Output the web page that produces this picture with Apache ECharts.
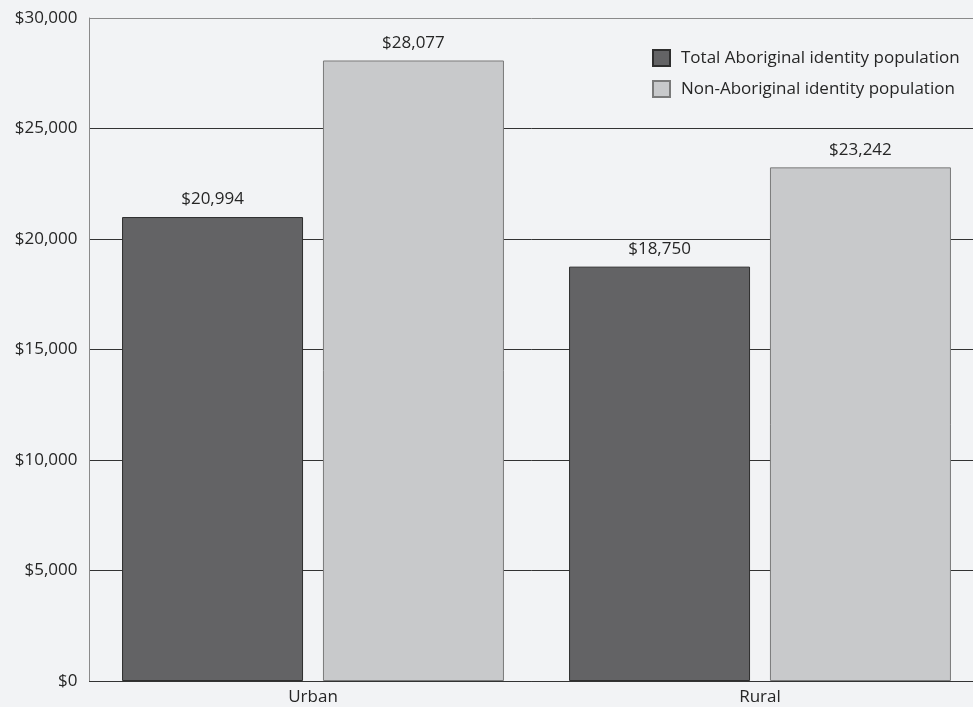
<!DOCTYPE html>
<html>
<head>
<meta charset="utf-8">
<script src="https://cdn.jsdelivr.net/npm/echarts@6/dist/echarts.min.js"></script>
<style>
  html, body { margin: 0; padding: 0; background: #f2f3f5; }
  #chart { width: 973px; height: 707px; }
</style>
</head>
<body>
<div id="chart"></div>
<script>
// Median income by area of residence
const categories = ['Urban', 'Rural'];
const aboriginal = [20994, 18750];
const nonAboriginal = [28077, 23242];
const seriesNames = ['Total Aboriginal identity population', 'Non-Aboriginal identity population'];

const FONT = 'Open Sans';
const TEXT = '#262626';
const money = v => '$' + Number(v).toLocaleString('en-US');

const chart = echarts.init(document.getElementById('chart'), null, { renderer: 'canvas' });
chart.setOption({
  backgroundColor: '#f2f3f5',
  animation: false,
  textStyle: { fontFamily: FONT },
  legend: {
    orient: 'vertical',
    left: 652,
    top: 49,
    padding: 0,
    itemWidth: 17,
    itemHeight: 16,
    itemGap: 13,
    icon: 'rect',
    textStyle: { fontFamily: FONT, fontSize: 17, lineHeight: 18, color: TEXT, padding: [0, 0, 0, 6] },
    data: seriesNames
  },
  // plot band runs a little past the right edge of the canvas
  grid: { left: 89.5, width: 894, top: 18, bottom: 26, containLabel: false, outerBoundsMode: 'none' },
  xAxis: {
    type: 'category',
    data: categories,
    axisLine: { show: true, lineStyle: { color: '#333', width: 1 } },
    axisTick: { show: false },
    axisLabel: { fontFamily: FONT, fontSize: 17, color: TEXT, margin: 8 },
    splitLine: { show: false }
  },
  yAxis: {
    type: 'value',
    min: 0,
    max: 30000,
    interval: 5000,
    axisLine: { show: true, lineStyle: { color: '#8a8a8a', width: 1 } },
    axisTick: { show: false },
    axisLabel: { fontFamily: FONT, fontSize: 17, color: TEXT, margin: 12, formatter: money },
    splitLine: { show: true, lineStyle: { color: ['#333', '#333', '#333', '#333', '#333', '#333', '#8a8a8a'], width: 1 } }
  },
  series: [
    {
      name: seriesNames[0],
      type: 'bar',
      data: aboriginal,
      barWidth: 181,
      barGap: '11%',
      itemStyle: { color: '#636365', borderColor: '#2e2e2e', borderWidth: 1 },
      label: { show: true, position: 'top', distance: 9, fontFamily: FONT, fontSize: 17, color: TEXT, formatter: p => money(p.value) },
      z: 3
    },
    {
      name: seriesNames[1],
      type: 'bar',
      data: nonAboriginal,
      barWidth: 181,
      barGap: '11%',
      itemStyle: { color: '#c8c9cb', borderColor: '#7a7a7a', borderWidth: 1 },
      label: { show: true, position: 'top', distance: 9, fontFamily: FONT, fontSize: 17, color: TEXT, formatter: p => money(p.value) },
      z: 3
    }
  ]
});
</script>
</body>
</html>
